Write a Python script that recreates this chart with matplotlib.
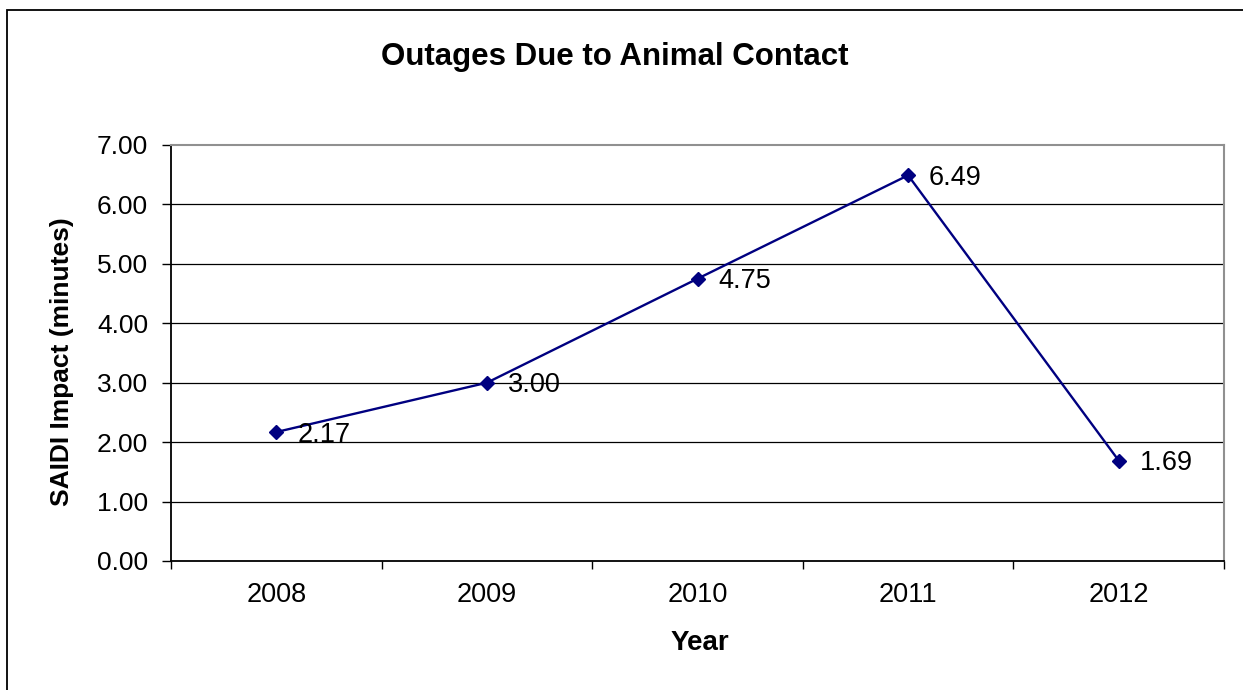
import matplotlib.pyplot as plt
import matplotlib.patches as patches
from matplotlib.ticker import FixedLocator

plt.rcParams['font.family'] = ['Liberation Sans', 'DejaVu Sans']

years = ['2008', '2009', '2010', '2011', '2012']
saidi = [2.17, 3.00, 4.75, 6.49, 1.69]
yticks = [0, 1, 2, 3, 4, 5, 6, 7]

W, H = 1243, 690
fig = plt.figure(figsize=(W / 100, H / 100), dpi=100)

# outer chart frame (right and bottom run off the image)
frame = patches.Rectangle((7 / W, -0.05), 1.2, (H - 10) / H + 0.05,
                          transform=fig.transFigure, fill=False,
                          edgecolor='black', linewidth=1.3)
fig.add_artist(frame)

ax = fig.add_axes([171 / W, (H - 561) / H, (1224 - 171) / W, (561 - 145) / H])

x = list(range(len(years)))
ax.plot(x, saidi, color='#000080', linewidth=1.7, marker='D', markersize=7,
        markerfacecolor='#000080', markeredgecolor='#000080', zorder=3)

for xi, v in zip(x, saidi):
    ax.annotate(f'{v:.2f}', (xi, v), xytext=(15, -2), textcoords='offset points',
                ha='left', va='center', fontsize=19.5, color='black', zorder=4)

ax.set_xlim(-0.5, len(years) - 0.5)
ax.set_ylim(0, 7)

ax.set_yticks(yticks)
ax.set_yticklabels([f'{t:.2f}' for t in yticks], fontsize=19)
ax.tick_params(axis='y', direction='out', length=6.5, width=1, pad=10)

ax.set_xticks(x)
ax.set_xticklabels(years, fontsize=19.5)
ax.xaxis.set_minor_locator(FixedLocator([i - 0.5 for i in range(len(years) + 1)]))
ax.tick_params(axis='x', which='major', length=0, pad=15)
ax.tick_params(axis='x', which='minor', direction='out', length=6, width=1)

for t in yticks[1:-1]:
    ax.axhline(t, color='black', linewidth=0.9, zorder=1)

ax.spines['left'].set_color('black')
ax.spines['bottom'].set_color('black')
ax.spines['left'].set_linewidth(1.3)
ax.spines['bottom'].set_linewidth(1.3)
ax.spines['top'].set_color('#909090')
ax.spines['right'].set_color('#909090')
ax.spines['top'].set_linewidth(1.5)
ax.spines['right'].set_linewidth(1.5)

fig.text(615 / W, 1 - 57 / H, 'Outages Due to Animal Contact', ha='center', va='center',
         fontsize=22.5, fontweight='bold')
fig.text(62 / W, 1 - 362 / H, 'SAIDI Impact (minutes)', ha='center', va='center',
         rotation=90, fontsize=19, fontweight='bold')
fig.text(700 / W, 1 - 643 / H, 'Year', ha='center', va='center',
         fontsize=20, fontweight='bold')

fig.savefig('out.png', dpi=100)
